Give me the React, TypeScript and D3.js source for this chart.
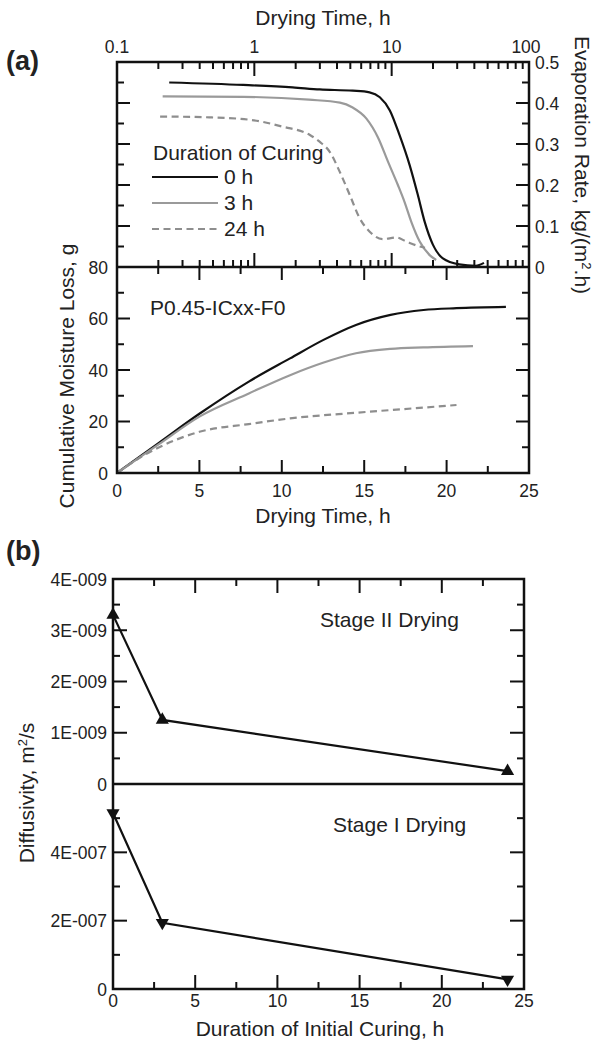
import React from "react";
import * as d3 from "d3";

// ---------- data ----------
const logTimeTicks = [0.1, 1, 10, 100];
const logTimeLabels = ["0.1", "1", "10", "100"];
const evapRateTicks = [0, 0.1, 0.2, 0.3, 0.4, 0.5];
const evapRateLabels = ["0", "0.1", "0.2", "0.3", "0.4", "0.5"];
const cumLossTicks = [0, 20, 40, 60, 80];
const dryingTimeTicks = [0, 5, 10, 15, 20, 25];
const curingTicks = [0, 5, 10, 15, 20, 25];
const stage2Ticks = [0, 1e-9, 2e-9, 3e-9, 4e-9];
const stage2TickLabels = ["0", "1E-009", "2E-009", "3E-009", "4E-009"];
const stage1Ticks = [0, 2e-7, 4e-7];
const stage1TickLabels = ["0", "2E-007", "4E-007"];

const legendLabels = ["0 h", "3 h", "24 h"];

const evap0hTime = [0.24, 0.83, 1.9, 3.0, 5.2, 6.9, 8.2, 9.7, 11.4, 13.5, 15.5, 17.4, 20, 23.6, 31, 41, 47];
const evap0hRate = [0.45, 0.444, 0.438, 0.433, 0.43, 0.426, 0.414, 0.382, 0.322, 0.249, 0.176, 0.11, 0.054, 0.021, 0.0065, 0.003, 0.01];

const evap3hTime = [0.215, 0.83, 2.5, 4.2, 5.2, 6.55, 7.95, 9.4, 11.1, 12.4, 13.9, 16, 18.9, 21.1];
const evap3hRate = [0.416, 0.415, 0.408, 0.401, 0.389, 0.362, 0.316, 0.257, 0.2, 0.159, 0.11, 0.062, 0.029, 0.017];

const evap24hTime = [0.206, 0.47, 0.93, 1.62, 2.54, 3.0, 3.54, 4.19, 4.95, 5.85, 6.92, 8.65, 10.8, 12.8, 16, 17.5];
const evap24hRate = [0.367, 0.365, 0.359, 0.342, 0.322, 0.305, 0.281, 0.232, 0.176, 0.119, 0.086, 0.068, 0.072, 0.062, 0.05, 0.047];

const cum0hTime = [0, 2.5, 5, 8, 10.5, 12.5, 14.5, 16.6, 18.6, 20.6, 23.6];
const cum0hLoss = [0, 11.5, 23, 35.5, 44.5, 51.6, 57.5, 61.4, 63.3, 64, 64.5];

const cum3hTime = [0, 2.5, 5, 8, 10.5, 12.5, 14.5, 16.6, 18.6, 21.6];
const cum3hLoss = [0, 11, 21.9, 30.9, 38, 42.8, 46.5, 48.2, 48.8, 49.3];

const cum24hTime = [0, 1.4, 2.5, 5, 8, 10.5, 14.5, 18.6, 20.6];
const cum24hLoss = [0, 6.0, 9.8, 16, 19, 21.2, 23.4, 25.4, 26.4];

const curingTime = [0, 3, 24];
const stage2Diff = [3.3e-9, 1.25e-9, 0.25e-9];
const stage1Diff = [5.15e-7, 1.94e-7, 0.28e-7];

// ---------- style ----------
const FONT = "Arial, 'Liberation Sans', Helvetica, sans-serif";
const TICK_FS = 17.5;
const TITLE_FS = 21;
const TXT = "#222";
const INK = "#111";
const GRAY = "#9a9a9a";
const DGRAY = "#8e8e8e";
const MAJ = 13;
const MIN = 7;
const FRAME_W = 2.5;

export default function App() {
  // scales
  const xLog = d3.scaleLog().domain([0.1, 100]).range([117, 529]);
  const yEvap = d3.scaleLinear().domain([0, 0.5]).range([267, 62]);
  const xLin = d3.scaleLinear().domain([0, 25]).range([117, 529]);
  const yCum = d3.scaleLinear().domain([0, 80]).range([473, 267]);
  const xB = d3.scaleLinear().domain([0, 25]).range([113, 524]);
  const yB2 = d3.scaleLinear().domain([0, 4e-9]).range([784, 579]);
  const yB1 = d3.scaleLinear().domain([0, 6e-7]).range([989, 784]);

  const zip = (a: number[], b: number[]) => a.map((v, i) => [v, b[i]] as [number, number]);

  const evapLine = d3
    .line<[number, number]>()
    .x((d) => xLog(d[0]))
    .y((d) => yEvap(d[1]))
    .curve(d3.curveMonotoneX);
  const cumLine = d3
    .line<[number, number]>()
    .x((d) => xLin(d[0]))
    .y((d) => yCum(d[1]))
    .curve(d3.curveMonotoneX);
  const stage2Line = d3
    .line<[number, number]>()
    .x((d) => xB(d[0]))
    .y((d) => yB2(d[1]));
  const stage1Line = d3
    .line<[number, number]>()
    .x((d) => xB(d[0]))
    .y((d) => yB1(d[1]));

  const tri = d3.symbol(d3.symbolTriangle, 75)() as string;

  // log minor ticks
  const logMinor: number[] = [];
  [0.1, 1, 10].forEach((dec) => {
    for (let k = 2; k <= 9; k++) logMinor.push(dec * k);
  });

  const linTicks = d3.range(0, 25.01, 2.5);
  const evapTickVals = d3.range(0, 0.5001, 0.05);
  const cumTickVals = d3.range(0, 80.01, 10);
  const s2TickVals = d3.range(0, 4.0001e-9, 0.5e-9);
  const s1TickVals = d3.range(0, 6.0001e-7, 1e-7);

  const isMaj = (v: number, step: number) => Math.abs(v / step - Math.round(v / step)) < 1e-6;

  const [aL, aR] = xLin.range();
  const [bL, bR] = xB.range();

  return (
    <svg
      width={595}
      height={1046}
      style={{ position: "absolute", left: 0, top: 0, background: "#fff" }}
      fontFamily={FONT}
    >
      <rect x={0} y={0} width={595} height={1046} fill="#fff" />

      {/* ================= Panel (a) ================= */}
      <text x={6} y={70} fontSize={27} fontWeight="bold" fill={TXT}>(a)</text>

      {/* top log axis */}
      <text x={323} y={25} fontSize={TITLE_FS} textAnchor="middle" fill={TXT}>Drying Time, h</text>
      {logTimeTicks.map((t, i) => (
        <text key={"lt" + i} x={xLog(t) + (i === 3 ? -3 : 0)} y={53} fontSize={TICK_FS} textAnchor="middle" fill={TXT}>
          {logTimeLabels[i]}
        </text>
      ))}
      {logTimeTicks.map((t, i) => (
        <g key={"ltm" + i}>
          <line x1={xLog(t)} x2={xLog(t)} y1={62} y2={62 + MAJ + 1} stroke={INK} strokeWidth={2} />
          <line x1={xLog(t)} x2={xLog(t)} y1={267} y2={267 - MAJ - 1} stroke={INK} strokeWidth={2} />
        </g>
      ))}
      {logMinor.map((t, i) => (
        <g key={"lmn" + i}>
          <line x1={xLog(t)} x2={xLog(t)} y1={62} y2={62 + MIN} stroke={INK} strokeWidth={2} />
          <line x1={xLog(t)} x2={xLog(t)} y1={267} y2={267 - MIN} stroke={INK} strokeWidth={2} />
        </g>
      ))}

      {/* evap rate ticks: left & right */}
      {evapTickVals.map((v, i) => {
        const len = isMaj(v, 0.1) ? MAJ : MIN;
        return (
          <g key={"et" + i}>
            <line x1={aL} x2={aL + len} y1={yEvap(v)} y2={yEvap(v)} stroke={INK} strokeWidth={2} />
            <line x1={aR} x2={aR - len} y1={yEvap(v)} y2={yEvap(v)} stroke={INK} strokeWidth={2} />
          </g>
        );
      })}
      {evapRateTicks.map((v, i) => (
        <text key={"etl" + i} x={535} y={yEvap(v)} dy="0.38em" fontSize={TICK_FS} fill={TXT}>
          {evapRateLabels[i]}
        </text>
      ))}
      <text
        transform={`translate(575,165) rotate(90)`}
        fontSize={TITLE_FS}
        textAnchor="middle"
        fill={TXT}
      >
        Evaporation Rate, kg/(m
        <tspan dy={-7} fontSize={13}>2</tspan>
        <tspan dy={7}>.h)</tspan>
      </text>

      {/* evap curves */}
      <path d={evapLine(zip(evap0hTime, evap0hRate)) as string} fill="none" stroke={INK} strokeWidth={2.2} />
      <path d={evapLine(zip(evap3hTime, evap3hRate)) as string} fill="none" stroke={GRAY} strokeWidth={2.2} />
      <path
        d={evapLine(zip(evap24hTime, evap24hRate)) as string}
        fill="none"
        stroke={DGRAY}
        strokeWidth={2.2}
        strokeDasharray="7,4.5"
      />

      {/* legend */}
      <text x={153} y={160} fontSize={TITLE_FS} fill={TXT}>Duration of Curing</text>
      {legendLabels.map((lab, i) => {
        const y = 177 + i * 26;
        const stroke = i === 0 ? INK : i === 1 ? GRAY : DGRAY;
        return (
          <g key={"lg" + i}>
            <line
              x1={152}
              x2={218}
              y1={y}
              y2={y}
              stroke={stroke}
              strokeWidth={2.2}
              strokeDasharray={i === 2 ? "7,4.5" : undefined}
            />
            <text x={224} y={y + 7} fontSize={TITLE_FS} fill={TXT}>{lab}</text>
          </g>
        );
      })}

      {/* middle panel ticks */}
      {linTicks.map((v, i) => {
        const len = isMaj(v, 5) ? MAJ : MIN;
        return (
          <g key={"mt" + i}>
            <line x1={xLin(v)} x2={xLin(v)} y1={267} y2={267 + len} stroke={INK} strokeWidth={2} />
            <line x1={xLin(v)} x2={xLin(v)} y1={473} y2={473 - len} stroke={INK} strokeWidth={2} />
          </g>
        );
      })}
      {cumTickVals.map((v, i) => {
        const len = isMaj(v, 20) ? MAJ : MIN;
        return (
          <g key={"ct" + i}>
            <line x1={aL} x2={aL + len} y1={yCum(v)} y2={yCum(v)} stroke={INK} strokeWidth={2} />
            <line x1={aR} x2={aR - len} y1={yCum(v)} y2={yCum(v)} stroke={INK} strokeWidth={2} />
          </g>
        );
      })}
      {cumLossTicks.map((v, i) => (
        <text key={"ctl" + i} x={108} y={yCum(v)} dy="0.38em" fontSize={TICK_FS} textAnchor="end" fill={TXT}>
          {v}
        </text>
      ))}
      {dryingTimeTicks.map((v, i) => (
        <text key={"dtl" + i} x={xLin(v)} y={497} fontSize={TICK_FS} textAnchor="middle" fill={TXT}>
          {v}
        </text>
      ))}
      <text x={323} y={523} fontSize={TITLE_FS} textAnchor="middle" fill={TXT}>Drying Time, h</text>
      <text transform={`translate(74,376) rotate(-90)`} fontSize={TITLE_FS} textAnchor="middle" fill={TXT}>
        Cumulative Moisture Loss, g
      </text>
      <text x={150} y={315} fontSize={TITLE_FS} fill={TXT}>P0.45-ICxx-F0</text>

      {/* cumulative curves */}
      <path d={cumLine(zip(cum0hTime, cum0hLoss)) as string} fill="none" stroke={INK} strokeWidth={2.2} />
      <path d={cumLine(zip(cum3hTime, cum3hLoss)) as string} fill="none" stroke={GRAY} strokeWidth={2.2} />
      <path
        d={cumLine(zip(cum24hTime, cum24hLoss)) as string}
        fill="none"
        stroke={DGRAY}
        strokeWidth={2.2}
        strokeDasharray="7,4.5"
      />

      {/* frames (a) */}
      <rect x={aL} y={62} width={aR - aL} height={473 - 62} fill="none" stroke={INK} strokeWidth={FRAME_W} />
      <line x1={aL} x2={aR} y1={267} y2={267} stroke={INK} strokeWidth={FRAME_W} />

      {/* ================= Panel (b) ================= */}
      <text x={6} y={560} fontSize={27} fontWeight="bold" fill={TXT}>(b)</text>

      {linTicks.map((v, i) => {
        const len = isMaj(v, 5) ? MAJ + 1 : MIN;
        return (
          <g key={"bt" + i}>
            <line x1={xB(v)} x2={xB(v)} y1={579} y2={579 + len} stroke={INK} strokeWidth={2} />
            <line x1={xB(v)} x2={xB(v)} y1={989} y2={989 - len} stroke={INK} strokeWidth={2} />
          </g>
        );
      })}
      {s2TickVals.map((v, i) => {
        const len = isMaj(v, 1e-9) ? MAJ + 1 : MIN;
        return (
          <g key={"s2t" + i}>
            <line x1={bL} x2={bL + len} y1={yB2(v)} y2={yB2(v)} stroke={INK} strokeWidth={2} />
            <line x1={bR} x2={bR - len} y1={yB2(v)} y2={yB2(v)} stroke={INK} strokeWidth={2} />
          </g>
        );
      })}
      {s1TickVals.map((v, i) => {
        const len = isMaj(v, 2e-7) ? MAJ + 1 : MIN;
        return (
          <g key={"s1t" + i}>
            <line x1={bL} x2={bL + len} y1={yB1(v)} y2={yB1(v)} stroke={INK} strokeWidth={2} />
            <line x1={bR} x2={bR - len} y1={yB1(v)} y2={yB1(v)} stroke={INK} strokeWidth={2} />
          </g>
        );
      })}
      {stage2Ticks.map((v, i) => (
        <text key={"s2l" + i} x={107} y={yB2(v)} dy="0.38em" fontSize={TICK_FS} textAnchor="end" fill={TXT}>
          {stage2TickLabels[i]}
        </text>
      ))}
      {stage1Ticks.map((v, i) => (
        <text key={"s1l" + i} x={107} y={yB1(v)} dy="0.38em" fontSize={TICK_FS} textAnchor="end" fill={TXT}>
          {stage1TickLabels[i]}
        </text>
      ))}
      {curingTicks.map((v, i) => (
        <text key={"cul" + i} x={xB(v)} y={1007} fontSize={TICK_FS} textAnchor="middle" fill={TXT}>
          {v}
        </text>
      ))}
      <text x={320} y={1036} fontSize={TITLE_FS} textAnchor="middle" fill={TXT}>
        Duration of Initial Curing, h
      </text>
      <text transform={`translate(34,793) rotate(-90)`} fontSize={TITLE_FS} textAnchor="middle" fill={TXT}>
        Diffusivity, m
        <tspan dy={-7} fontSize={13}>2</tspan>
        <tspan dy={7}>/s</tspan>
      </text>
      <text x={320} y={627} fontSize={TITLE_FS} fill={TXT}>Stage II Drying</text>
      <text x={333} y={832} fontSize={TITLE_FS} fill={TXT}>Stage I Drying</text>

      {/* stage lines */}
      <path d={stage2Line(zip(curingTime, stage2Diff)) as string} fill="none" stroke={INK} strokeWidth={2.2} />
      <path d={stage1Line(zip(curingTime, stage1Diff)) as string} fill="none" stroke={INK} strokeWidth={2.2} />
      {curingTime.map((t, i) => (
        <path key={"m2" + i} d={tri} transform={`translate(${xB(t)},${yB2(stage2Diff[i])})`} fill={INK} />
      ))}
      {curingTime.map((t, i) => (
        <path
          key={"m1" + i}
          d={tri}
          transform={`translate(${xB(t)},${yB1(stage1Diff[i])}) rotate(180)`}
          fill={INK}
        />
      ))}

      {/* frames (b) */}
      <rect x={bL} y={579} width={bR - bL} height={989 - 579} fill="none" stroke={INK} strokeWidth={FRAME_W} />
      <line x1={bL} x2={bR} y1={784} y2={784} stroke={INK} strokeWidth={FRAME_W} />
    </svg>
  );
}
